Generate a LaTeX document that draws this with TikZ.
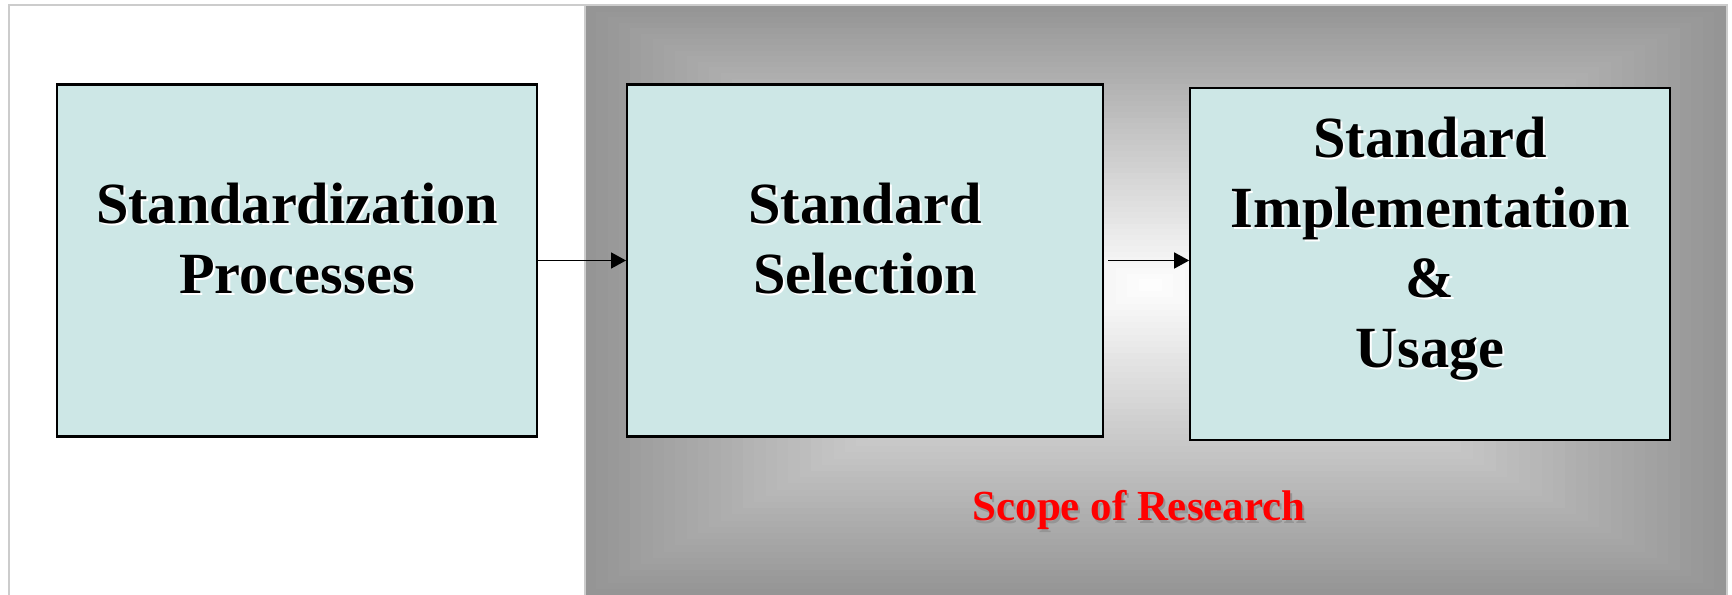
\documentclass[tikz,border=0pt]{standalone}
\usepackage{fontspec}
\setmainfont{Liberation Serif}
\usepackage{tikz}
\usetikzlibrary{positioning,arrows.meta}
\definecolor{boxfill}{RGB}{205,231,230}
\definecolor{framegray}{RGB}{204,204,204}
\definecolor{scopegray}{RGB}{149,149,149}
\newcommand{\shtext}[2][white]{\leavevmode\rlap{\kern0.6pt\raisebox{-0.6pt}{\color{#1}#2}}#2}

\begin{document}
\begin{tikzpicture}[x=0.1mm, y=-0.1mm,
  box/.style={draw, line width=0.6pt, fill=boxfill, minimum width=48mm, minimum height=35.2mm,
    align=center, font=\fontsize{16.6}{19.9}\selectfont\bfseries,
    execute at end node={\rule[-4.4mm]{0pt}{0pt}}},
  arr/.style={line width=0.45pt, -{Triangle[length=1.5mm,width=1.6mm]}}]
\useasboundingbox (0,0) rectangle (1732,595);
% frame and shaded scope area
\draw[framegray, line width=0.6pt] (9,600) -- (9,5) -- (1727,5) -- (1727,600);
\foreach \i [evaluate=\i as \t using 1-\i/50, evaluate=\i as \p using int(2*\i)] in {0,...,49}
  \fill[white!\p!scopegray] ({1150+\t*(585-1150)},{285+\t*(6-285)}) rectangle ({1150+\t*(1726-1150)},{285+\t*(595-285)});
\draw[framegray, line width=0.6pt] (585,6) -- (585,600);
% boxes
\node[box] (proc) at (297,260.5) {\shtext{Standardization}\\\shtext{Processes}};
\node[box, minimum width=47.6mm, right=8.8mm of proc] (sel) {\shtext{Standard}\\\shtext{Selection}};
\node[box, right=8.5mm of sel, yshift=-0.35mm] (impl) {\shtext{Standard}\\\shtext{Implementation}\\\shtext{\&}\\\shtext{Usage}};
\node[anchor=base, text=red, font=\fontsize{12.2}{15}\selectfont\bfseries] (scope) at (1139,521) {\shtext[scopegray]{Scope of Research}};
\draw[arr] (proc) -- (sel);
\draw[arr] ([xshift=0.4mm]sel.east) -- (sel.east -| impl.west);
\end{tikzpicture}
\end{document}
